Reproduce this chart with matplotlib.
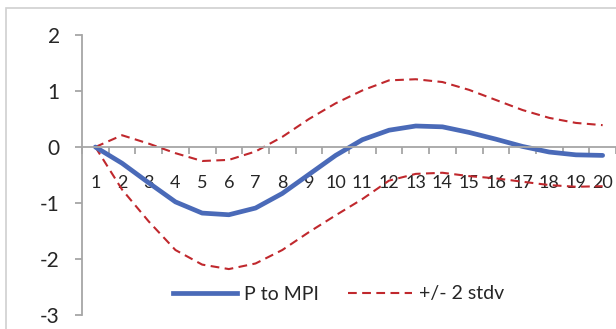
import matplotlib
matplotlib.use("Agg")
import matplotlib.pyplot as plt
from matplotlib.patches import Rectangle
from matplotlib.lines import Line2D

periods = list(range(1, 21))
p_to_mpi = [0.0, -0.29, -0.64, -0.98, -1.18, -1.21, -1.09, -0.83, -0.49, -0.15,
            0.13, 0.30, 0.375, 0.36, 0.26, 0.14, 0.01, -0.09, -0.14, -0.15]
upper = [0.0, 0.21, 0.06, -0.11, -0.25, -0.23, -0.08, 0.18, 0.50, 0.78,
         1.01, 1.19, 1.21, 1.16, 1.02, 0.84, 0.66, 0.52, 0.43, 0.39]
lower = [0.0, -0.76, -1.33, -1.84, -2.10, -2.18, -2.08, -1.84, -1.52, -1.22,
         -0.93, -0.60, -0.48, -0.46, -0.52, -0.56, -0.62, -0.68, -0.71, -0.70]
yticks = [-3, -2, -1, 0, 1, 2]

blue = "#4A6AB8"
red = "#C0282D"
axis_col = "#A6A6A6"
font = ["Lato", "DejaVu Sans"]
plt.rcParams['font.family'] = font

W, H = 616, 329
fig = plt.figure(figsize=(W / 100, H / 100), dpi=100)
# outer chart border
fig.patches.append(Rectangle((6 / W, -0.1), 1.2, (H - 8) / H + 0.1,
                             transform=fig.transFigure, fill=False,
                             edgecolor="#D0D0D0", linewidth=1.2))

ax = fig.add_axes([82 / W, (H - 315) / H, (616 - 82) / W, (315 - 35) / H])
ax.set_xlim(0.5, 20.5)
ax.set_ylim(-3, 2)
ax.patch.set_alpha(0)

ax.plot(periods, upper, color=red, lw=1.5, dashes=(4.2, 2.6))
ax.plot(periods, lower, color=red, lw=1.5, dashes=(4.2, 2.6))
ax.plot(periods, p_to_mpi, color=blue, lw=3.4, solid_capstyle='round',
        solid_joinstyle='round')

for s in ['top', 'right']:
    ax.spines[s].set_visible(False)
ax.spines['bottom'].set_position(('data', 0))
ax.spines['bottom'].set_color(axis_col)
ax.spines['left'].set_color(axis_col)
ax.spines['bottom'].set_linewidth(1.3)
ax.spines['left'].set_linewidth(1.3)

ax.set_yticks(yticks)
ax.set_yticklabels([str(v) for v in yticks])
ax.tick_params(axis='y', direction='out', length=5, width=1.3, color=axis_col,
               pad=11, labelsize=15, labelcolor="#262626")

ax.set_xticks(periods)
ax.set_xticklabels([str(p) for p in periods])
ax.set_xticks([p + 0.5 for p in [0] + periods], minor=True)
ax.tick_params(axis='x', which='major', length=0, pad=20, labelsize=13,
               labelcolor="#262626")
ax.tick_params(axis='x', which='minor', direction='out', length=5, width=1.3,
               color=axis_col)

handles = [Line2D([], [], color=blue, lw=3.4),
           Line2D([], [], color=red, lw=1.5, dashes=(4.2, 2.6))]
fig.legend(handles, ["P to MPI", "+/- 2 stdv"], loc='center',
           bbox_to_anchor=(338.5 / W, (H - 294) / H), ncol=2, frameon=False,
           fontsize=14, handlelength=3.3, handletextpad=0.35, columnspacing=1.5,
           labelcolor="#262626")

fig.savefig("out.png", dpi=100)
